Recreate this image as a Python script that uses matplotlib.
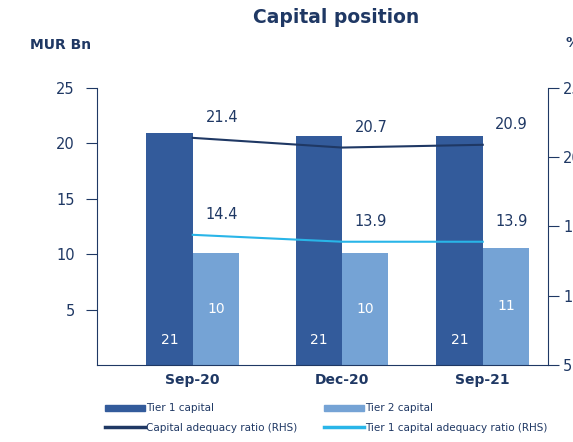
import numpy as np
import matplotlib.pyplot as plt
from matplotlib.patches import Patch
from matplotlib.lines import Line2D

periods = ["Sep-20", "Dec-20", "Sep-21"]
tier1_capital = [20.9, 20.7, 20.7]
tier2_capital = [10.1, 10.1, 10.6]
tier1_labels = ["21", "21", "21"]
tier2_labels = ["10", "10", "11"]
car_ratio = [21.4, 20.7, 20.9]
tier1_ratio = [14.4, 13.9, 13.9]

navy = '#1f3864'
tier1_color = '#335b9b'
tier2_color = '#75a3d5'
light_line = '#29b5e8'
width = 0.32

plt.rcParams['font.family'] = 'DejaVu Sans'
plt.rcParams['text.color'] = navy

x = np.array([0, 1.03, 2.0])

# Plot capital bars
fig = plt.figure(figsize=(5.73, 4.42), dpi=100)
ax = fig.add_axes([97/573, 1 - 365/442, 451/573, 277/442])
ax.bar(x - width/2, tier1_capital, width, color=tier1_color)
ax.bar(x + width/2, tier2_capital, width, color=tier2_color)
for i in range(len(periods)):
    ax.text(x[i] - width/2, 2.3, tier1_labels[i], color='white', ha='center', va='center', fontsize=10)
    ax.text(x[i] + width/2, tier2_capital[i]/2, tier2_labels[i], color='white', ha='center', va='center', fontsize=10)
ax.set_ylim(0, 25)
ax.set_yticks([5, 10, 15, 20, 25])
ax.set_xlim(-0.66, 2.45)
ax.set_xticks(x)
ax.set_xticklabels(periods, fontsize=10, fontweight='bold', color=navy)
ax.tick_params(axis='x', length=0, pad=6)
ax.tick_params(axis='y', colors=navy, labelsize=10.5, length=8, pad=8)
for side in ['top', 'right']:
    ax.spines[side].set_visible(False)
ax.spines['left'].set_color(navy)
ax.spines['bottom'].set_color(navy)

# Ratios on the right axis
ax2 = ax.twinx()
ax2.plot(x, car_ratio, color=navy, linewidth=1.5)
ax2.plot(x, tier1_ratio, color=light_line, linewidth=1.5)
for i in range(len(periods)):
    ax2.text(x[i] + 0.2, car_ratio[i] + 0.9, f"{car_ratio[i]:.1f}", ha='center', va='bottom', fontsize=10.5)
    ax2.text(x[i] + 0.2, tier1_ratio[i] + 0.9, f"{tier1_ratio[i]:.1f}", ha='center', va='bottom', fontsize=10.5)
ax2.set_ylim(5, 25)
ax2.set_yticks([5, 10, 15, 20, 25])
ax2.tick_params(axis='y', colors=navy, labelsize=10.5, length=8, pad=3)
for side in ['top', 'left']:
    ax2.spines[side].set_visible(False)
ax2.spines['right'].set_color(navy)
ax2.spines['bottom'].set_visible(False)

fig.text(0.587, 0.96, "Capital position", ha='center', va='center', fontsize=13.5, fontweight='bold')
fig.text(30/573, 1 - 45/442, "MUR Bn", ha='left', va='center', fontsize=10, fontweight='bold')
fig.text(565/573, 1 - 43/442, "%", ha='left', va='center', fontsize=10, fontweight='bold')

handles = [Patch(color=tier1_color), Line2D([], [], color=navy, linewidth=2.5),
           Patch(color=tier2_color), Line2D([], [], color=light_line, linewidth=2.5)]
names = ["Tier 1 capital", "Capital adequacy ratio (RHS)",
         "Tier 2 capital", "Tier 1 capital adequacy ratio (RHS)"]
fig.legend(handles, names, ncol=2, loc='lower left', bbox_to_anchor=(96/573, 0.0),
           frameon=False, fontsize=7.5, handlelength=3.8, handleheight=0.5,
           handletextpad=0.1, columnspacing=2.6, labelspacing=0.9, labelcolor=navy)

plt.savefig("out.png", dpi=100)
